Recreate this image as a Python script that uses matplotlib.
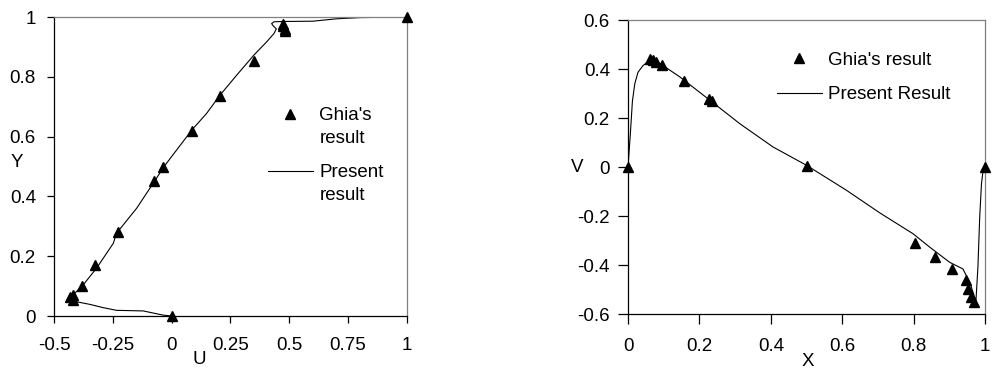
import matplotlib
matplotlib.use('Agg')
import matplotlib.pyplot as plt

plt.rcParams['font.family'] = ['Liberation Sans', 'DejaVu Sans']
plt.rcParams['axes.unicode_minus'] = False

# U velocity along vertical centreline (Ghia's points)
ghia_y = [0, 0.0547, 0.0625, 0.0703, 0.1016, 0.1719, 0.2813, 0.4531, 0.5,
          0.6172, 0.7344, 0.8516, 0.9531, 0.9609, 0.9688, 0.9766, 1]
ghia_u = [0, -0.42, -0.43, -0.42, -0.38, -0.326, -0.23, -0.075, -0.035,
          0.085, 0.205, 0.35, 0.48, 0.48, 0.475, 0.472, 1]

# present result, U profile
pres_u = [0, -0.036, -0.121, -0.177, -0.234, -0.291, -0.348, -0.406, -0.44,
          -0.426, -0.376, -0.319, -0.248, -0.234, -0.149, -0.074, -0.033,
          0.021, 0.086, 0.149, 0.206, 0.277, 0.35, 0.404, 0.435, 0.445,
          0.43, 0.425, 0.435, 0.47, 0.6, 0.7, 0.8, 1]
pres_y = [0, 0.003, 0.017, 0.018, 0.019, 0.028, 0.039, 0.048, 0.054,
          0.065, 0.104, 0.16, 0.243, 0.277, 0.36, 0.449, 0.499,
          0.555, 0.622, 0.678, 0.739, 0.806, 0.873, 0.917, 0.945, 0.96,
          0.972, 0.978, 0.984, 0.985, 0.986, 0.994, 0.998, 1]

# V velocity along horizontal centreline (Ghia's points)
ghia_x = [0, 0.0625, 0.0703, 0.0781, 0.0938, 0.1563, 0.2266, 0.2344, 0.5,
          0.8047, 0.8594, 0.9063, 0.9453, 0.9531, 0.9609, 0.9688, 1]
ghia_v = [0, 0.44, 0.435, 0.43, 0.418, 0.353, 0.276, 0.268, 0.005,
          -0.311, -0.366, -0.416, -0.463, -0.497, -0.532, -0.552, 0]

# present result, V profile
pres_x = [0, 0.0066, 0.0124, 0.019, 0.028, 0.042, 0.056, 0.065, 0.089,
          0.145, 0.229, 0.313, 0.406, 0.5, 0.612, 0.705, 0.798, 0.845,
          0.901, 0.938, 0.957, 0.971, 0.974, 0.98, 0.985, 0.99, 0.995, 1]
pres_v = [0, 0.137, 0.27, 0.34, 0.387, 0.414, 0.43, 0.437, 0.423,
          0.368, 0.273, 0.177, 0.082, 0.007, -0.095, -0.187, -0.272, -0.327,
          -0.389, -0.416, -0.47, -0.532, -0.558, -0.409, -0.204, -0.068, -0.007, 0]

u_ticks = [-0.5, -0.25, 0, 0.25, 0.5, 0.75, 1]
u_labels = ['-0.5', '-0.25', '0', '0.25', '0.5', '0.75', '1']
y_ticks = [0, 0.2, 0.4, 0.6, 0.8, 1]
y_labels = ['0', '0.2', '0.4', '0.6', '0.8', '1']
x_ticks = [0, 0.2, 0.4, 0.6, 0.8, 1]
x_labels = ['0', '0.2', '0.4', '0.6', '0.8', '1']
v_ticks = [-0.6, -0.4, -0.2, 0, 0.2, 0.4, 0.6]
v_labels = ['-0.6', '-0.4', '-0.2', '0', '0.2', '0.4', '0.6']

fs = 13.5
fig = plt.figure(figsize=(9.94, 3.69), dpi=100)
ax1 = fig.add_axes([0.0543, 0.1436, 0.3551, 0.8103])
ax2 = fig.add_axes([0.6318, 0.149, 0.3592, 0.7967])


def style(ax, tlen, ypad):
    for s in ['top', 'right']:
        ax.spines[s].set_color('#808080')
    for s in ['left', 'bottom']:
        ax.spines[s].set_color('black')
    for s in ax.spines.values():
        s.set_linewidth(0.9)
    ax.tick_params(axis='both', direction='out', length=tlen, width=0.9,
                   labelsize=fs, top=False, right=False)
    ax.tick_params(axis='x', pad=10)
    ax.tick_params(axis='y', pad=ypad)


def top_align(leg):
    # put the handle next to the first line of a two-line label
    for col in leg._legend_handle_box.get_children():
        for item in col.get_children():
            item.align = 'top'


# left chart
ax1.plot(ghia_u, ghia_y, marker='^', color='black', linestyle='', markersize=7.5,
         label="Ghia's\nresult", clip_on=False, zorder=3)
ax1.plot(pres_u, pres_y, color='black', linewidth=0.8, label='Present\nresult')
ax1.set_xlim(-0.5, 1)
ax1.set_ylim(0, 1)
ax1.set_xticks(u_ticks)
ax1.set_xticklabels(u_labels)
ax1.set_yticks(y_ticks)
ax1.set_yticklabels(y_labels)
style(ax1, 5, 8)
ax1.text(0.411, -0.144, 'U', transform=ax1.transAxes, ha='center', va='center', fontsize=fs)
ax1.text(-0.105, 0.512, 'Y', transform=ax1.transAxes, ha='center', va='center', fontsize=fs)
leg1 = ax1.legend(loc='upper left', bbox_to_anchor=(0.606, 0.699), frameon=False, fontsize=fs,
                  borderpad=0, borderaxespad=0, handlelength=2.4, handletextpad=0.35,
                  handleheight=1.0, labelspacing=0.92)
for t in leg1.get_texts():
    t.set_linespacing(1.44)
top_align(leg1)

# right chart
ax2.plot(ghia_x, ghia_v, marker='^', color='black', linestyle='', markersize=7.5,
         label="Ghia's result", clip_on=False, zorder=3)
ax2.plot(pres_x, pres_v, color='black', linewidth=0.8, label='Present Result')
ax2.set_xlim(0, 1)
ax2.set_ylim(-0.6, 0.6)
ax2.set_xticks(x_ticks)
ax2.set_xticklabels(x_labels)
ax2.set_yticks(v_ticks)
ax2.set_yticklabels(v_labels)
style(ax2, 7, 6)
ax2.text(0.504, -0.163, 'X', transform=ax2.transAxes, ha='center', va='center', fontsize=fs)
ax2.text(-0.143, 0.5, 'V', transform=ax2.transAxes, ha='center', va='center', fontsize=fs)
ax2.legend(loc='upper left', bbox_to_anchor=(0.417, 0.892), frameon=False, fontsize=fs,
           borderpad=0, borderaxespad=0, handlelength=2.4, handletextpad=0.35,
           labelspacing=0.92)

fig.savefig('out.png', dpi=100)
